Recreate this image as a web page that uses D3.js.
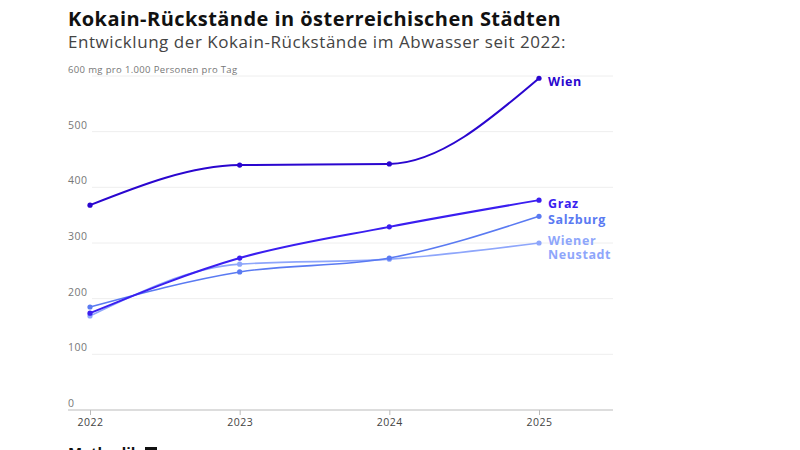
<!DOCTYPE html>
<html><head><meta charset="utf-8">
<script src="https://cdn.jsdelivr.net/npm/d3@7"></script>
<style>
body{margin:0;background:#fff;}
svg{display:block;font-family:"Open Sans",sans-serif;}
</style></head><body>
<svg id="c" width="800" height="450"></svg>
<script>
const years = ["2022","2023","2024","2025"];
const cities = ["Wien","Graz","Salzburg","Wiener Neustadt"];
const wien = [368, 440, 442, 596];
const graz = [174, 273, 329, 377];
const salzburg = [185, 248, 273, 348];
const wienerNeustadt = [169, 262, 271, 300];
const yTicks = [0,100,200,300,400,500,600];
const colors = ["#2a06cf","#3a1ef0","#5a7af2","#8ea6fb"];
const series = [wien, graz, salzburg, wienerNeustadt];

const svg = d3.select("#c");
svg.append("text").attr("x",68).attr("y",26).attr("font-size",20).attr("font-weight",700).attr("letter-spacing",0.45).attr("fill","#111").text("Kokain-Rückstände in österreichischen Städten");
svg.append("text").attr("x",68).attr("y",48).attr("font-size",17).attr("letter-spacing",0.55).attr("fill","#444").text("Entwicklung der Kokain-Rückstände im Abwasser seit 2022:");

const x = d3.scalePoint().domain(years).range([90,539]);
const y = d3.scaleLinear().domain([0,600]).range([410,76]);

// grid
const g = svg.append("g");
yTicks.forEach(t=>{
  if(t>0) g.append("line").attr("x1",92).attr("x2",613).attr("y1",y(t)).attr("y2",y(t)).attr("stroke","#eee").attr("stroke-width",1);
  g.append("text").attr("x",68).attr("y",y(t)-3)
    .attr("font-size",t===600?9.5:10.5).attr("letter-spacing",t===600?0.35:0.5).attr("fill","#777")
    .text(t===600 ? "600 mg pro 1.000 Personen pro Tag" : t);
});

// x axis
const xa = svg.append("g").attr("transform","translate(0,410)")
  .call(d3.axisBottom(x).tickSize(5).tickPadding(4));
xa.select(".domain").remove();
xa.append("line").attr("x1",68).attr("x2",613).attr("y1",0).attr("y2",0).attr("stroke","#bbb");
xa.selectAll(".tick line").attr("stroke","#bbb");
xa.selectAll(".tick text").attr("font-size",10.5).attr("letter-spacing",0.5).attr("fill","#444").attr("font-family","'Open Sans',sans-serif");

const line = d3.line().x((d,i)=>x(years[i])).y(d=>y(d)).curve(d3.curveMonotoneX);
[3,2,1,0].forEach(k=>{
  svg.append("path").attr("d",line(series[k])).attr("fill","none").attr("stroke",colors[k]).attr("stroke-width",k<2?2:1.6);
  svg.selectAll(null).data(series[k]).enter().append("circle")
    .attr("cx",(d,i)=>x(years[i])).attr("cy",d=>y(d)).attr("r",2.6).attr("fill",colors[k]);
});

// labels
const lab = [
  {k:0, lines:["Wien"], dy:8},
  {k:1, lines:["Graz"], dy:8},
  {k:2, lines:["Salzburg"], dy:8},
  {k:3, lines:["Wiener","Neustadt"], dy:2}
];
lab.forEach(l=>{
  const t = svg.append("text").attr("x",548).attr("y",y(series[l.k][3])+l.dy)
    .attr("font-size",12.5).attr("font-weight",700).attr("letter-spacing",0.6).attr("fill",colors[l.k]);
  l.lines.forEach((s,i)=>t.append("tspan").attr("x",548).attr("dy",i?14:0).text(s));
});

// Methodik (cut off at the bottom edge, as in the reference)
svg.append("text").attr("x",68).attr("y",458).attr("font-size",15).attr("font-weight",700).attr("fill","#111").text("Methodik");
svg.append("rect").attr("x",145).attr("y",447).attr("width",12).attr("height",12).attr("fill","#111");
</script>
</body></html>
